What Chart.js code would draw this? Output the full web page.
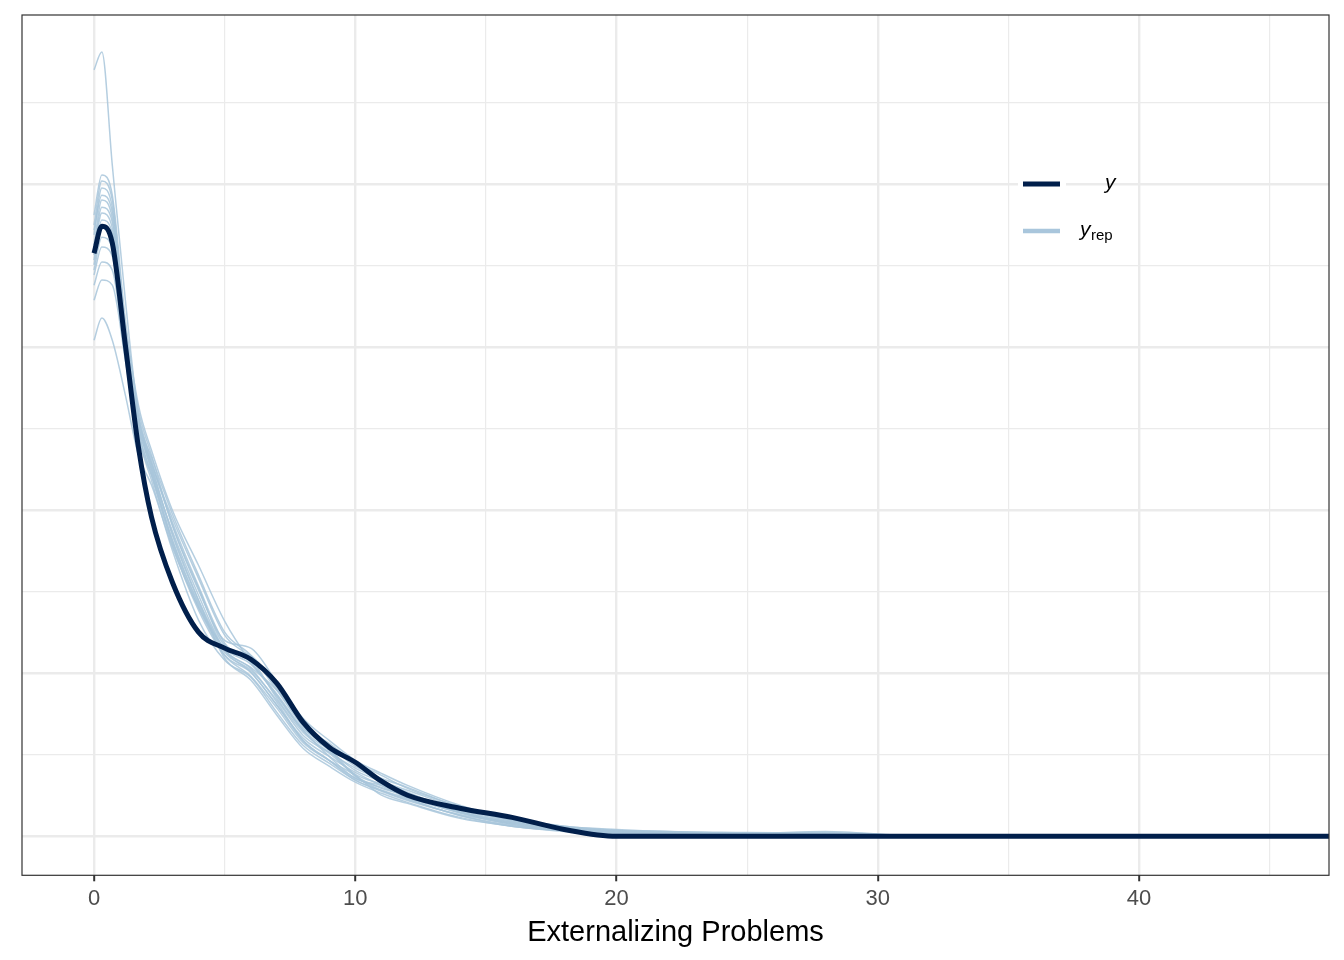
<!DOCTYPE html>
<html>
<head>
<meta charset="utf-8">
<script src="https://cdn.jsdelivr.net/npm/chart.js@4/dist/chart.umd.min.js"></script>
<style>
  html, body { margin: 0; padding: 0; background: #fff; }
  #wrap { width: 1344px; height: 960px; }
</style>
</head>
<body>
<div id="wrap"><canvas id="densChart" width="1344" height="960"></canvas></div>
<script>
// ── data (density of y and of 15 replicated draws) ──
const xGrid = [0, 0.3, 0.7, 1.2, 1.7, 2.2, 3, 4, 5, 6, 7, 8, 9, 10, 11, 12, 14, 16, 18, 20, 22, 25, 28, 31, 35, 40, 47.3];

const yObs = [0.1788, 0.1871, 0.1819, 0.1506, 0.1193, 0.0979, 0.0779, 0.0626, 0.0577, 0.0543, 0.0469, 0.0350, 0.0273, 0.0227, 0.0169, 0.0126, 0.0086, 0.0058, 0.0021, 0, 0, 0, 0, 0, 0, 0, 0];

const yrep01 = [0.2350, 0.2405, 0.2058, 0.1644, 0.1291, 0.1123, 0.0936, 0.0739, 0.0571, 0.0503, 0.0402, 0.0294, 0.0233, 0.0172, 0.0141, 0.0117, 0.0074, 0.0043, 0.0025, 0.0012, 0.0009, 0.0006, 0.0003, 0, 0, 0, 0];
const yrep02 = [0.1905, 0.2028, 0.1966, 0.1583, 0.1322, 0.1184, 0.1000, 0.0831, 0.0660, 0.0534, 0.0433, 0.0325, 0.0264, 0.0202, 0.0169, 0.0141, 0.0086, 0.0049, 0.0028, 0.0015, 0.0009, 0.0006, 0.0006, 0.0003, 0, 0, 0];
const yrep03 = [0.1874, 0.2009, 0.1951, 0.1552, 0.1276, 0.1138, 0.0923, 0.0724, 0.0571, 0.0518, 0.0448, 0.0350, 0.0270, 0.0187, 0.0147, 0.0126, 0.0074, 0.0037, 0.0021, 0.0018, 0.0012, 0.0009, 0.0015, 0.0003, 0, 0, 0];
const yrep04 = [0.1844, 0.1988, 0.1929, 0.1537, 0.1245, 0.1107, 0.0893, 0.0693, 0.0555, 0.0503, 0.0402, 0.0301, 0.0245, 0.0196, 0.0156, 0.0117, 0.0064, 0.0031, 0.0018, 0.0012, 0.0006, 0.0009, 0.0003, 0, 0, 0, 0];
const yrep05 = [0.1859, 0.1966, 0.1914, 0.1567, 0.1307, 0.1169, 0.0954, 0.0761, 0.0586, 0.0555, 0.0454, 0.0340, 0.0285, 0.0227, 0.0187, 0.0147, 0.0092, 0.0055, 0.0031, 0.0021, 0.0015, 0.0012, 0.0009, 0.0003, 0, 0, 0];
const yrep06 = [0.1813, 0.1951, 0.1896, 0.1521, 0.1230, 0.1092, 0.0877, 0.0663, 0.0540, 0.0488, 0.0380, 0.0279, 0.0224, 0.0172, 0.0138, 0.0110, 0.0067, 0.0040, 0.0021, 0.0009, 0.0006, 0.0003, 0.0003, 0, 0, 0, 0];
const yrep07 = [0.1798, 0.1929, 0.1883, 0.1537, 0.1291, 0.1153, 0.0954, 0.0755, 0.0601, 0.0577, 0.0472, 0.0362, 0.0294, 0.0233, 0.0193, 0.0156, 0.0095, 0.0052, 0.0031, 0.0018, 0.0012, 0.0009, 0.0006, 0.0003, 0, 0, 0];
const yrep08 = [0.1782, 0.1911, 0.1865, 0.1506, 0.1261, 0.1123, 0.0908, 0.0709, 0.0564, 0.0509, 0.0417, 0.0310, 0.0255, 0.0190, 0.0160, 0.0132, 0.0080, 0.0046, 0.0025, 0.0015, 0.0009, 0.0006, 0.0006, 0.0003, 0, 0, 0];
const yrep09 = [0.1767, 0.1890, 0.1850, 0.1521, 0.1282, 0.1144, 0.0975, 0.0791, 0.0617, 0.0546, 0.0423, 0.0319, 0.0258, 0.0209, 0.0172, 0.0135, 0.0077, 0.0040, 0.0025, 0.0015, 0.0009, 0.0006, 0.0003, 0, 0, 0, 0];
const yrep10 = [0.1752, 0.1865, 0.1828, 0.1491, 0.1239, 0.1113, 0.0899, 0.0702, 0.0577, 0.0528, 0.0436, 0.0331, 0.0276, 0.0215, 0.0178, 0.0150, 0.0089, 0.0049, 0.0028, 0.0018, 0.0015, 0.0009, 0.0012, 0.0003, 0, 0, 0];
const yrep11 = [0.1736, 0.1837, 0.1804, 0.1506, 0.1270, 0.1163, 0.0988, 0.0801, 0.0626, 0.0555, 0.0448, 0.0337, 0.0264, 0.0184, 0.0141, 0.0113, 0.0064, 0.0034, 0.0018, 0.0009, 0.0006, 0.0003, 0.0003, 0, 0, 0, 0];
const yrep12 = [0.1721, 0.1807, 0.1779, 0.1485, 0.1252, 0.1132, 0.0929, 0.0724, 0.0546, 0.0479, 0.0371, 0.0270, 0.0215, 0.0166, 0.0132, 0.0104, 0.0058, 0.0031, 0.0018, 0.0012, 0.0006, 0.0003, 0.0003, 0, 0, 0, 0];
const yrep13 = [0.1690, 0.1761, 0.1736, 0.1475, 0.1261, 0.1144, 0.0963, 0.0767, 0.0592, 0.0534, 0.0429, 0.0325, 0.0245, 0.0178, 0.0156, 0.0129, 0.0074, 0.0043, 0.0025, 0.0015, 0.0009, 0.0006, 0.0006, 0.0003, 0, 0, 0];
const yrep14 = [0.1644, 0.1706, 0.1690, 0.1460, 0.1221, 0.1107, 0.0908, 0.0715, 0.0571, 0.0515, 0.0411, 0.0294, 0.0233, 0.0178, 0.0150, 0.0123, 0.0071, 0.0037, 0.0021, 0.0012, 0.0009, 0.0006, 0.0003, 0, 0, 0, 0];
const yrep15 = [0.1521, 0.1589, 0.1521, 0.1353, 0.1169, 0.1077, 0.0887, 0.0702, 0.0555, 0.0491, 0.0393, 0.0288, 0.0233, 0.0187, 0.0126, 0.0101, 0.0055, 0.0031, 0.0015, 0.0009, 0.0006, 0.0003, 0.0003, 0, 0, 0, 0];

const yrepDraws = [yrep01, yrep02, yrep03, yrep04, yrep05, yrep06, yrep07, yrep08,
                   yrep09, yrep10, yrep11, yrep12, yrep13, yrep14, yrep15];

const xTicks = [0, 5, 10, 15, 20, 25, 30, 35, 40, 45];
const xLabelled = [0, 10, 20, 30, 40];
const yTicks = [0, 0.025, 0.05, 0.075, 0.1, 0.125, 0.15, 0.175, 0.2, 0.225];
const yMajor = [0, 0.05, 0.1, 0.15, 0.2];
const xTitle = 'Externalizing Problems';

// ── styling ──
const FONT = '"Liberation Sans", Arial, sans-serif';
const darkCol = '#011f4b';
const lightCol = 'rgba(168,197,219,0.85)';
const gridCol = '#ebebeb';

function toPoints(vals) { return vals.map((v, i) => ({ x: xGrid[i], y: v })); }

const datasets = yrepDraws.map((d, i) => ({
  label: 'yrep' + (i + 1),
  data: toPoints(d),
  borderColor: lightCol,
  borderWidth: 1.5,
  pointRadius: 0,
  cubicInterpolationMode: 'monotone',
  order: 2,
}));
datasets.push({
  label: 'y',
  data: toPoints(yObs),
  borderColor: darkCol,
  borderWidth: 5,
  borderCapStyle: 'butt',
  pointRadius: 0,
  cubicInterpolationMode: 'monotone',
  order: 1,
});

// panel border + legend drawn by hand (ggplot style)
const panelAndLegend = {
  id: 'panelAndLegend',
  afterDraw(chart) {
    const { ctx, chartArea: a } = chart;
    ctx.save();
    ctx.strokeStyle = '#333333';
    ctx.lineWidth = 1.2;
    ctx.strokeRect(a.left, a.top, a.right - a.left, a.bottom - a.top);

    // legend keys
    ctx.fillStyle = '#ffffff';
    ctx.fillRect(1018, 162, 48, 44);
    ctx.fillRect(1018, 209, 48, 44);
    ctx.lineCap = 'butt';
    ctx.strokeStyle = darkCol;
    ctx.lineWidth = 5;
    ctx.beginPath(); ctx.moveTo(1023, 184); ctx.lineTo(1060, 184); ctx.stroke();
    ctx.strokeStyle = '#a9c6dc';
    ctx.lineWidth = 4.5;
    ctx.beginPath(); ctx.moveTo(1023, 231); ctx.lineTo(1060, 231); ctx.stroke();

    ctx.fillStyle = '#000000';
    ctx.textBaseline = 'alphabetic';
    ctx.textAlign = 'left';
    ctx.font = 'italic 21px ' + FONT;
    ctx.fillText('y', 1105, 189);
    ctx.fillText('y', 1080, 236);
    ctx.font = '15px ' + FONT;
    ctx.fillText('rep', 1091, 240);
    ctx.restore();
  }
};

new Chart(document.getElementById('densChart'), {
  type: 'line',
  data: { datasets },
  options: {
    responsive: false,
    animation: false,
    layout: { padding: { left: 22, right: 15, top: 15, bottom: 5.5 } },
    plugins: { legend: { display: false }, tooltip: { enabled: false } },
    scales: {
      x: {
        type: 'linear',
        min: -2.756,
        max: 47.27,
        afterBuildTicks: axis => { axis.ticks = xTicks.map(v => ({ value: v })); },
        border: { display: false },
        grid: {
          color: gridCol,
          lineWidth: ctx => (ctx.tick && xLabelled.includes(ctx.tick.value)) ? 2.4 : 1.2,
          drawTicks: true,
          tickLength: 6,
          tickWidth: 2,
          tickColor: ctx => (ctx.tick && xLabelled.includes(ctx.tick.value)) ? '#333333' : 'rgba(0,0,0,0)',
        },
        ticks: {
          autoSkip: false,
          maxRotation: 0,
          padding: 4,
          color: '#4d4d4d',
          font: { family: FONT, size: 22 },
          callback: v => xLabelled.includes(v) ? String(v) : '',
        },
        title: {
          display: true,
          text: xTitle,
          color: '#000000',
          font: { family: FONT, size: 29 },
          padding: { top: 0, bottom: 4 },
        },
      },
      y: {
        type: 'linear',
        min: -0.01196,
        max: 0.25184,
        afterBuildTicks: axis => { axis.ticks = yTicks.map(v => ({ value: v })); },
        border: { display: false },
        grid: {
          color: gridCol,
          lineWidth: ctx => (ctx.tick && yMajor.some(m => Math.abs(m - ctx.tick.value) < 1e-9)) ? 2.4 : 1.2,
          drawTicks: false,
        },
        ticks: { display: false },
      },
    },
  },
  plugins: [panelAndLegend],
});
</script>
</body>
</html>
